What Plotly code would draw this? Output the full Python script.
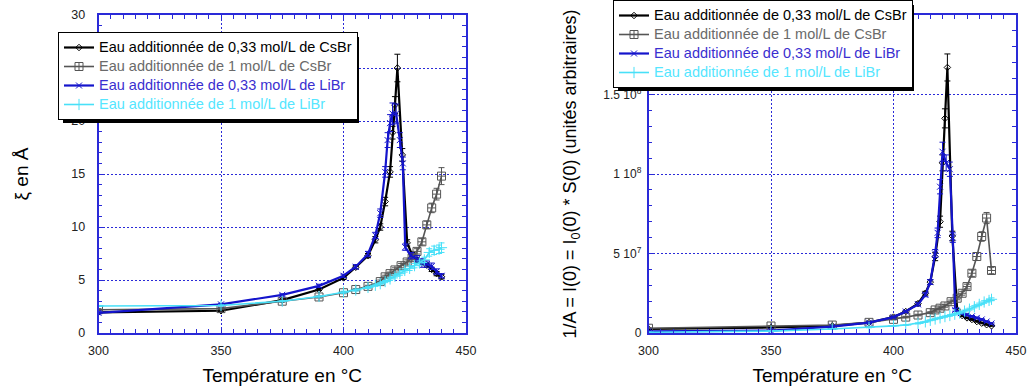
import plotly.graph_objects as go

# ---------------- data ----------------
# Left panel: correlation length xi (Angstrom); right panel: 1/A (arbitrary units, stored in units of 1e7)
T_cs033 = [300, 350, 375, 390, 400, 405, 410, 413, 415, 417, 419, 420, 421, 422, 424, 426, 428, 430, 432, 434, 436, 438, 440]
xi_cs033 = [1.95, 2.1, 3.1, 4.1, 5.2, 6.2, 7.3, 8.8, 10.0, 12.4, 15.2, 18.9, 21.5, 25.0, 16.8, 8.5, 7.4, 6.9, 6.7, 6.4, 6.0, 5.6, 5.3]
xi_cs033_err = [0.1, 0.1, 0.1, 0.1, 0.15, 0.15, 0.2, 0.3, 0.3, 0.4, 0.5, 0.6, 0.8, 1.3, 0.6, 0.3, 0.2, 0.2, 0.2, 0.2, 0.2, 0.2, 0.2]
A_cs033 = [0.25, 0.35, 0.45, 0.65, 1.0, 1.35, 1.85, 2.5, 3.2, 4.8, 7.0, 10.7, 13.5, 16.7, 6.1, 1.45, 1.1, 0.95, 0.85, 0.72, 0.62, 0.52, 0.45]
A_cs033_err = [0.02, 0.02, 0.03, 0.04, 0.05, 0.07, 0.1, 0.12, 0.15, 0.25, 0.35, 0.5, 0.6, 0.85, 0.3, 0.08, 0.06, 0.05, 0.05, 0.04, 0.04, 0.03, 0.03]

T_cs1 = [300, 350, 375, 390, 400, 405, 410, 415, 417, 419, 421, 423.5, 426, 428, 430, 432, 434, 436, 438, 440]
xi_cs1 = [2.2, 2.3, 3.0, 3.4, 3.8, 4.1, 4.4, 4.85, 5.3, 5.6, 5.95, 6.35, 6.7, 7.1, 7.7, 8.6, 10.2, 11.8, 13.1, 14.8]
xi_cs1_err = [0.1, 0.1, 0.1, 0.1, 0.1, 0.1, 0.1, 0.15, 0.15, 0.15, 0.2, 0.2, 0.2, 0.2, 0.25, 0.3, 0.35, 0.45, 0.55, 0.8]
A_cs1 = [0.3, 0.44, 0.5, 0.67, 0.86, 1.0, 1.13, 1.28, 1.45, 1.56, 1.70, 1.97, 2.19, 2.5, 2.92, 3.76, 4.81, 6.07, 7.23, 3.93]
A_cs1_err = [0.02, 0.02, 0.03, 0.03, 0.04, 0.05, 0.05, 0.06, 0.07, 0.07, 0.08, 0.1, 0.1, 0.12, 0.15, 0.2, 0.25, 0.3, 0.35, 0.2]

T_li033 = [300, 350, 375, 390, 400, 405, 410, 413, 415, 417, 418, 419, 420, 421.5, 423, 424.2, 425.2, 427.5, 430, 432, 434, 436, 438, 440]
xi_li033 = [1.9, 2.7, 3.6, 4.45, 5.4, 6.25, 7.45, 9.2, 11.3, 15.2, 18.2, 19.8, 20.7, 20.7, 18.2, 16.0, 8.1, 7.3, 7.0, 6.6, 6.5, 6.3, 5.8, 5.4]
xi_li033_err = [0.1, 0.1, 0.1, 0.15, 0.15, 0.2, 0.25, 0.3, 0.4, 0.5, 0.7, 0.8, 1.0, 0.9, 0.7, 0.6, 0.3, 0.3, 0.3, 0.4, 0.3, 0.3, 0.25, 0.2]
A_li033 = [0.1, 0.15, 0.4, 0.65, 1.0, 1.35, 1.8, 2.4, 3.2, 5.0, 6.3, 9.2, 11.4, 10.7, 10.3, 6.0, 1.45, 1.25, 1.15, 1.05, 0.95, 0.85, 0.72, 0.6]
A_li033_err = [0.02, 0.02, 0.03, 0.04, 0.05, 0.07, 0.1, 0.12, 0.15, 0.25, 0.3, 0.45, 0.6, 0.5, 0.45, 0.3, 0.08, 0.06, 0.06, 0.05, 0.05, 0.05, 0.04, 0.04]

T_li1 = [300, 350, 375, 390, 400, 405, 410, 413, 415, 417, 419, 421, 423, 425, 427, 429, 431, 433, 435, 437, 439, 440]
xi_li1 = [2.55, 2.6, 3.0, 3.45, 3.85, 4.05, 4.3, 4.5, 4.65, 4.85, 5.1, 5.35, 5.6, 5.9, 6.1, 6.35, 6.6, 6.9, 7.6, 7.8, 7.9, 8.05]
xi_li1_err = [0.05, 0.05, 0.05, 0.05, 0.1, 0.1, 0.1, 0.1, 0.1, 0.1, 0.15, 0.15, 0.15, 0.15, 0.2, 0.2, 0.2, 0.25, 0.35, 0.4, 0.4, 0.45]
A_li1 = [0.05, 0.12, 0.25, 0.35, 0.45, 0.5, 0.6, 0.7, 0.8, 0.88, 0.95, 1.03, 1.1, 1.18, 1.26, 1.38, 1.5, 1.65, 1.8, 1.95, 2.05, 2.12]
A_li1_err = [0.01, 0.01, 0.01, 0.02, 0.02, 0.02, 0.03, 0.03, 0.03, 0.04, 0.04, 0.04, 0.05, 0.05, 0.05, 0.06, 0.06, 0.07, 0.08, 0.08, 0.09, 0.09]

A_UNIT = 1e7

names = [
    "Eau additionnée de 0,33 mol/L de CsBr",
    "Eau additionnée de 1 mol/L de CsBr",
    "Eau additionnée de 0,33 mol/L de LiBr",
    "Eau additionnée de 1 mol/L de LiBr",
]
text_colors = ["#000000", "#6a6a6a", "#3a2fd0", "#55e6ff"]
line_colors = ["#000000", "#555555", "#1414cc", "#48e0f8"]
line_widths = [2.2, 1.6, 2.2, 1.6]
symbols = ["diamond-open", "square-cross-open", "x-thin-open", "cross-thin-open"]
sizes = [5, 8, 6, 8]

x_ticks = [300, 350, 400, 450]
xi_ticks = [0, 5, 10, 15, 20, 25, 30]
A_tickvals = [0, 5e7, 1e8, 1.5e8, 2e8]
A_ticktext = ["0", "5 10<sup>7</sup>", "1 10<sup>8</sup>", "1.5 10<sup>8</sup>", "2 10<sup>8</sup>"]

left_sets = [(T_cs033, xi_cs033, xi_cs033_err), (T_cs1, xi_cs1, xi_cs1_err),
             (T_li033, xi_li033, xi_li033_err), (T_li1, xi_li1, xi_li1_err)]
right_sets = [(T_cs033, A_cs033, A_cs033_err), (T_cs1, A_cs1, A_cs1_err),
              (T_li033, A_li033, A_li033_err), (T_li1, A_li1, A_li1_err)]

# ---------------- figure ----------------
OFF = 0                      # body margin removed by post_script below
W, H = 1028 - OFF, 391 - OFF
MT, MB = 15 - OFF, 58
FONT = "Liberation Sans, Arial, sans-serif"
AXC = "#2a2ad8"
LEG_FS = 14.5
TICK_FS = 12.5

def pxx(p):
    """window pixel x -> paper fraction"""
    return (p - OFF) / W

def pxy(p):
    """window pixel y -> paper fraction"""
    return (H - MB - (p - OFF)) / (H - MT - MB)

fig = go.Figure()

for sets, xa, ya, leg, scale in [
    (left_sets, "x", "y", "legend", 1.0),
    (right_sets, "x2", "y2", "legend2", A_UNIT),
]:
    for i in range(4):
        T, v, e = sets[i]
        fig.add_trace(go.Scatter(
            x=T, y=[val * scale for val in v],
            error_y=dict(type="data", array=[val * scale for val in e], color=line_colors[i],
                         thickness=1, width=3),
            mode="lines+markers",
            name=f"<span style='color:{text_colors[i]};font-size:{LEG_FS}px'>{names[i]}</span>",
            line=dict(color=line_colors[i], width=line_widths[i]),
            marker=dict(symbol=symbols[i], size=sizes[i], color=line_colors[i],
                        line=dict(color=line_colors[i], width=1)),
            xaxis=xa, yaxis=ya, legend=leg, legendrank=i + 1,
        ))

def axis_style(**kw):
    d = dict(showline=True, linecolor=AXC, linewidth=1.5, mirror="allticks",
             ticks="inside", ticklen=6, tickwidth=1, tickcolor=AXC,
             showgrid=True, gridcolor=AXC, griddash="2px,2px", gridwidth=1,
             zeroline=False, tickfont=dict(family=FONT, size=TICK_FS, color="#222222"))
    d.update(kw)
    return d

legend_common = dict(xanchor="left", yanchor="top", bgcolor="white", bordercolor="black",
                     borderwidth=1, font=dict(family=FONT, size=11, color="black"),
                     tracegroupgap=0)

fig.update_layout(
    width=W, height=H,
    margin=dict(l=0, r=0, t=MT, b=MB, autoexpand=False),
    paper_bgcolor="white", plot_bgcolor="white",
    font=dict(family=FONT, color="#000000"),
    xaxis=axis_style(domain=[pxx(98.5), pxx(466)], range=[300, 450], tickvals=x_ticks,
                     minor=dict(dtick=5, ticks="inside", ticklen=4, tickcolor=AXC, showgrid=False),
                     ticklabelstandoff=5, anchor="y",
                     title=dict(text="Température en °C", font=dict(size=19, family=FONT), standoff=12)),
    yaxis=axis_style(domain=[0, 1], range=[0, 30], tickvals=xi_ticks,
                     minor=dict(dtick=1, ticks="inside", ticklen=4, tickcolor=AXC, showgrid=False),
                     ticklabelstandoff=9, anchor="x",
                     title=dict(text="ξ en Å", font=dict(size=19, family=FONT), standoff=38)),
    xaxis2=axis_style(domain=[pxx(648.5), pxx(1016)], range=[300, 450], tickvals=x_ticks,
                      minor=dict(dtick=5, ticks="inside", ticklen=4, tickcolor=AXC, showgrid=False),
                      ticklabelstandoff=5, anchor="y2",
                      title=dict(text="Température en °C", font=dict(size=19, family=FONT), standoff=12)),
    yaxis2=axis_style(domain=[0, 1], range=[0, 2e8], tickvals=A_tickvals, ticktext=A_ticktext,
                      tickfont=dict(family=FONT, size=12, color="#222222"),
                      minor=dict(dtick=1e7, ticks="inside", ticklen=4, tickcolor=AXC, showgrid=False),
                      ticklabelstandoff=3, anchor="x2",
                      title=dict(text="1/A = I(0) = I<sub>0</sub>(0) * S(0) (unités arbitraires)",
                                 font=dict(size=18, family=FONT), standoff=22)),
    legend=dict(x=pxx(58), y=pxy(32), **legend_common),
    legend2=dict(x=pxx(613), y=pxy(0), **legend_common),
    showlegend=True,
)

# drop shadows of the legend boxes (decoration), window pixel boxes of the legends
SH = 5
for (x0, y0, x1, y1) in [(58, 32, 354, 118), (613, 0, 909, 86)]:
    fig.add_shape(type="rect", xref="paper", yref="paper",
                  x0=pxx(x0 + SH), x1=pxx(x1 + SH), y0=pxy(y1 + SH), y1=pxy(y0 + SH),
                  fillcolor="black", line=dict(width=0), layer="above")

fig.write_html("out.html", config={"displayModeBar": False},
               post_script="document.body.style.margin='0px';")
